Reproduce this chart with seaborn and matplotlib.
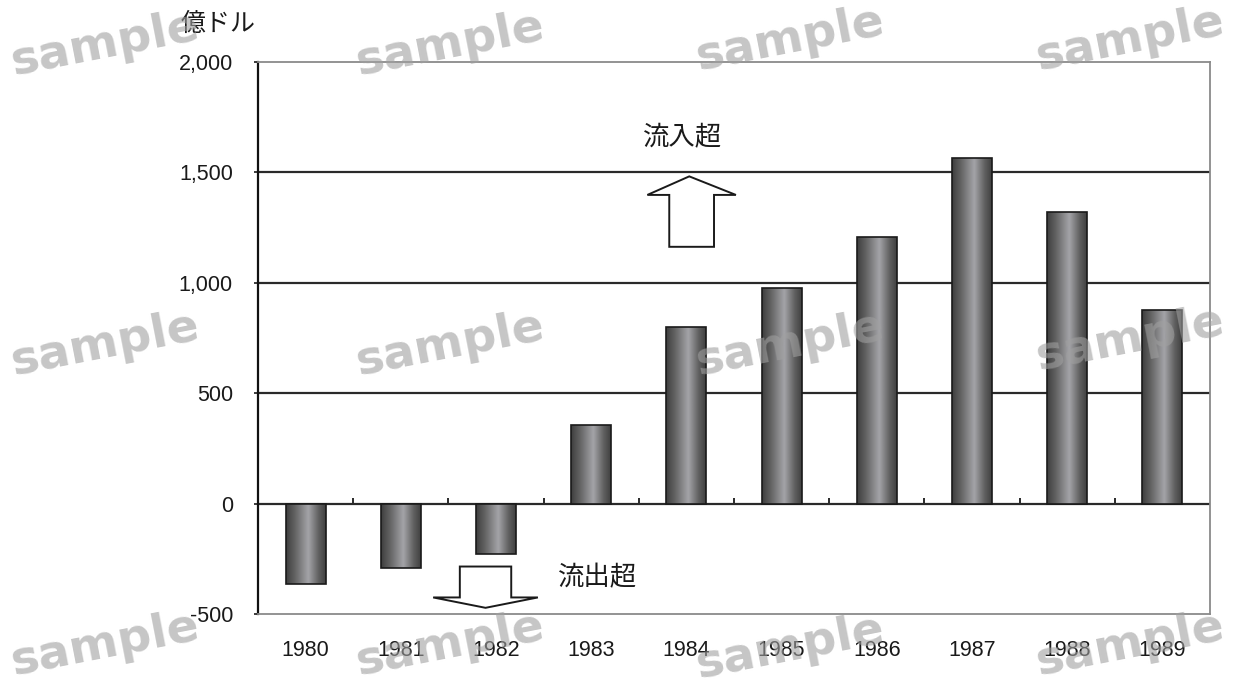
import numpy as np
import matplotlib
matplotlib.use("Agg")
import matplotlib.pyplot as plt
from matplotlib.colors import LinearSegmentedColormap
from matplotlib.patches import Polygon
import seaborn as sns

# Net capital flow, 100 million dollars
years = ["1980", "1981", "1982", "1983", "1984", "1985", "1986", "1987", "1988", "1989"]
values = [-365, -290, -230, 357, 800, 977, 1208, 1566, 1321, 878]
y_ticks = [-500, 0, 500, 1000, 1500, 2000]
y_tick_labels = ["-500", "0", "500", "1,000", "1,500", "2,000"]
unit_label = "億ドル"
inflow_label = "流入超"
outflow_label = "流出超"
watermark = "sample"

sns.set_theme(style="white")
plt.rcParams["font.family"] = ["Liberation Sans", "Noto Sans CJK JP", "DejaVu Sans"]

fig = plt.figure(figsize=(12.43, 6.88), dpi=100)
ax = fig.add_axes([258 / 1243, 1 - 614 / 688, (1210 - 258) / 1243, (614 - 62) / 688])

sns.barplot(x=years, y=values, color="#707070", width=0.42,
            edgecolor="#1a1a1a", linewidth=1.2, ax=ax, zorder=3)

# cylinder-like shading inside each bar
shade = LinearSegmentedColormap.from_list(
    "shade", [(0.0, "#3e3e3e"), (0.22, "#626262"), (0.56, "#a4a4a8"),
              (0.82, "#606060"), (1.0, "#404040")])
grad = np.linspace(0, 1, 256).reshape(1, -1)
for p in ax.patches:
    x0, y0 = p.get_x(), p.get_y()
    w, h = p.get_width(), p.get_height()
    im = ax.imshow(grad, extent=[x0, x0 + w, min(y0, y0 + h), max(y0, y0 + h)],
                   aspect="auto", cmap=shade, interpolation="bicubic", zorder=2.8)
    im.set_clip_path(p)
    p.set_facecolor("none")
    p.set_zorder(3)

ax.set_xlim(-0.5, len(years) - 0.5)
ax.set_ylim(-500, 2000)

# horizontal reference lines
for yv in [0, 500, 1000, 1500]:
    ax.axhline(yv, color="#2a2a2a", lw=1.6, zorder=1)
# small category dividers on the zero line
ax.vlines(np.arange(len(years) - 1) + 0.5, 0, 26, color="#2a2a2a", lw=1.4, zorder=1)

ax.set_yticks(y_ticks)
ax.set_yticklabels(y_tick_labels)
ax.tick_params(axis="y", length=3, width=1.2, direction="out", pad=15,
               labelsize=15.5, colors="#1a1a1a", left=True)
ax.tick_params(axis="x", length=0, pad=19, labelsize=15.5, colors="#1a1a1a")
ax.set_xlabel("")
ax.set_ylabel("")

for side in ["top", "right", "bottom"]:
    ax.spines[side].set_color("#8a8a8a")
    ax.spines[side].set_linewidth(1.3)
ax.spines["left"].set_color("#111111")
ax.spines["left"].set_linewidth(1.6)

# inflow / outflow arrows
up_arrow = [(3.82, 1163), (3.82, 1398), (3.59, 1398), (4.03, 1482),
            (4.52, 1398), (4.29, 1398), (4.29, 1163)]
down_arrow = [(1.62, -285), (1.62, -425), (1.34, -425), (1.89, -472),
              (2.44, -425), (2.16, -425), (2.16, -285)]
for pts in (up_arrow, down_arrow):
    ax.add_patch(Polygon(pts, closed=True, facecolor="white",
                         edgecolor="#1a1a1a", lw=1.4, zorder=4))

ax.text(3.96, 1655, inflow_label, ha="center", va="center", fontsize=19,
        color="#1a1a1a", family=["Noto Sans CJK JP"])
ax.text(3.07, -335, outflow_label, ha="center", va="center", fontsize=19,
        color="#1a1a1a", family=["Noto Sans CJK JP"])

fig.text(181 / 1243, 1 - 24 / 688, unit_label, ha="left", va="center",
         fontsize=18, color="#1a1a1a", family=["Noto Sans CJK JP"])

# watermark grid
wm_pos = [(105, 45), (450, 45), (790, 40), (1130, 40),
          (105, 345), (450, 345), (790, 345), (1130, 340),
          (105, 645), (450, 645), (790, 648), (1130, 645)]
for px, py in wm_pos:
    fig.text(px / 1243, 1 - py / 688, watermark, ha="center", va="center",
             fontsize=34, fontweight="bold", color="#a0a0a0", alpha=0.6,
             rotation=11, family=["DejaVu Sans"], zorder=20)

fig.savefig("out.png", dpi=100)
